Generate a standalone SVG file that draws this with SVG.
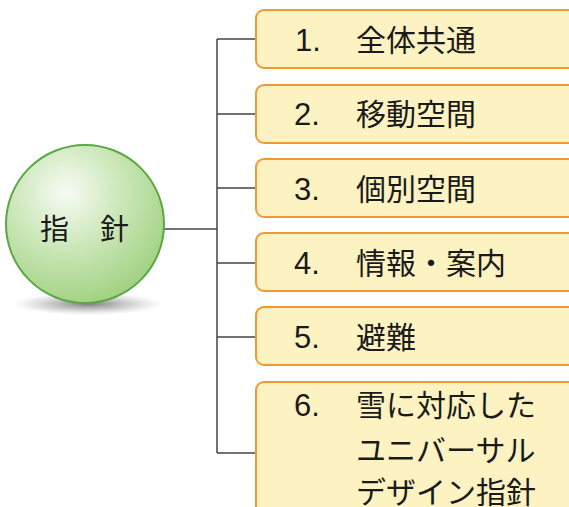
<svg xmlns="http://www.w3.org/2000/svg" width="569" height="507" viewBox="0 0 569 507">
<defs>
<radialGradient id="ball" cx="0.38" cy="0.3" r="0.75">
<stop offset="0" stop-color="#f7fbf3"/>
<stop offset="0.45" stop-color="#cde8bb"/>
<stop offset="1" stop-color="#9fd07e"/>
</radialGradient>
<radialGradient id="shadow" cx="0.5" cy="0.5" r="0.5">
<stop offset="0" stop-color="#666" stop-opacity="0.85"/>
<stop offset="1" stop-color="#999" stop-opacity="0"/>
</radialGradient>
<style>
.box{fill:#fdf2c2;stroke:#f19a33;stroke-width:2}
.t{font-family:"Noto Sans CJK JP","Noto Sans",sans-serif;font-size:30px;fill:#1a1a1a}
.n{font-family:"Liberation Sans","Noto Sans",sans-serif;font-size:31px;fill:#1a1a1a}
.c{fill:none;stroke:#444;stroke-width:1.5}
</style>
</defs>
<rect width="569" height="507" fill="#ffffff"/>
<g id="connectors">
<path class="c" d="M164 229H217M217 39V453M217 39H256M217 114H256M217 188H256M217 263H256M217 337H256M217 453H256"/>
</g>
<g id="root">
<ellipse cx="88" cy="304" rx="74" ry="11" fill="url(#shadow)"/>
<circle cx="85" cy="224" r="79" fill="url(#ball)" stroke="#5aa845" stroke-width="2"/>
<text class="t" x="40" y="240" style="font-size:29px">指</text>
<text class="t" x="100" y="240" style="font-size:29px">針</text>
</g>
<g id="n1"><rect class="box" x="256" y="10" width="330" height="58" rx="8"/><text class="n" x="295" y="51">1.</text><text class="t" x="356" y="51">全体共通</text></g>
<g id="n2"><rect class="box" x="256" y="85" width="330" height="58" rx="8"/><text class="n" x="294" y="125">2.</text><text class="t" x="356" y="125">移動空間</text></g>
<g id="n3"><rect class="box" x="256" y="159" width="330" height="58" rx="8"/><text class="n" x="294" y="200">3.</text><text class="t" x="356" y="200">個別空間</text></g>
<g id="n4"><rect class="box" x="256" y="233" width="330" height="58" rx="8"/><text class="n" x="294" y="274">4.</text><text class="t" x="356" y="274">情報・案内</text></g>
<g id="n5"><rect class="box" x="256" y="307" width="330" height="58" rx="8"/><text class="n" x="294" y="348">5.</text><text class="t" x="356" y="348">避難</text></g>
<g id="n6"><rect class="box" x="256" y="382" width="330" height="140" rx="8"/><text class="n" x="294" y="416">6.</text><text class="t" x="356" y="416">雪に対応した</text><text class="t" x="356" y="461">ユニバーサル</text><text class="t" x="356" y="503">デザイン指針</text></g>
</svg>
